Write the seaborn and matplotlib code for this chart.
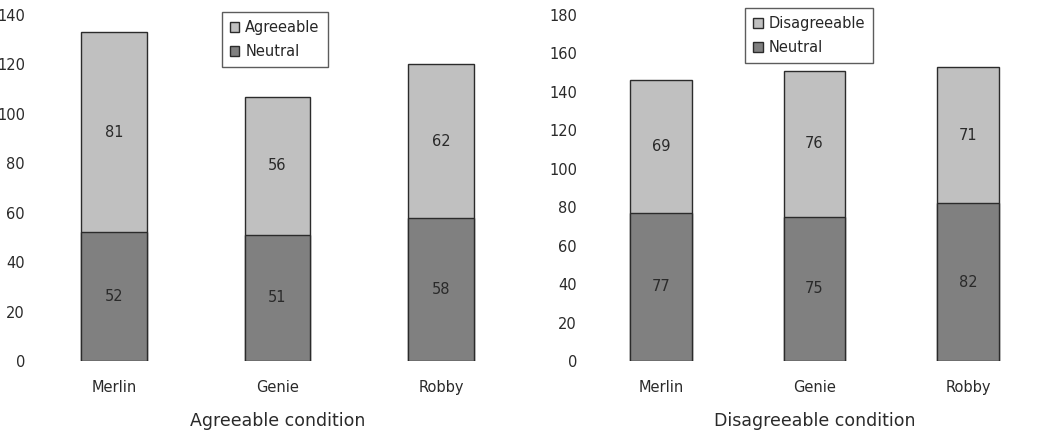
import pandas as pd
import matplotlib.pyplot as plt
import matplotlib.patches as mpatches
import seaborn as sns

robots = ['Merlin', 'Genie', 'Robby']

# Agreeable condition
agree_neutral = [52, 51, 58]
agree_agreeable = [81, 56, 62]

# Disagreeable condition
disagree_neutral = [77, 75, 82]
disagree_disagreeable = [69, 76, 71]

light = '#c0c0c0'
dark = '#808080'
edge = '#2b2b2b'
text_col = '#2a2a2a'

sns.set_style("white")
plt.rcParams['font.family'] = ['DejaVu Sans']

fig = plt.figure(figsize=(10.42, 4.41), dpi=100)
ax1 = fig.add_axes([32 / 1042, 80 / 441, 491 / 1042, 346 / 441])
ax2 = fig.add_axes([584 / 1042, 80 / 441, 461 / 1042, 346 / 441])


def draw_panel(ax, neutral, upper, upper_name, ymax, xlabel, legend_pos):
    df = pd.DataFrame({'robot': robots, 'neutral': neutral, 'upper': upper})
    df['total'] = df['neutral'] + df['upper']

    # Stacked bars: total bar first, neutral drawn on top of it
    sns.barplot(data=df, x='robot', y='total', color=light, width=0.4,
                edgecolor=edge, linewidth=1, saturation=1, ax=ax)
    sns.barplot(data=df, x='robot', y='neutral', color=dark, width=0.4,
                edgecolor=edge, linewidth=1, saturation=1, ax=ax)

    # Segment labels
    for i, row in df.iterrows():
        ax.text(i, row['neutral'] / 2, str(row['neutral']), ha='center', va='center',
                fontsize=10.5, color=text_col)
        ax.text(i, row['neutral'] + row['upper'] / 2, str(row['upper']), ha='center',
                va='center', fontsize=10.5, color=text_col)

    ax.set_xlim(-0.5, 2.5)
    ax.set_ylim(0, ymax)
    ax.set_yticks(range(0, ymax + 1, 20))
    ax.tick_params(axis='both', length=0, labelsize=10.5, colors=text_col)
    ax.tick_params(axis='x', pad=14)
    ax.tick_params(axis='y', pad=5)
    ax.set_ylabel('')
    ax.set_xlabel(xlabel, fontsize=12.5, color=text_col, labelpad=12)
    for s in ax.spines.values():
        s.set_visible(False)

    handles = [mpatches.Patch(facecolor=light, edgecolor=edge, label=upper_name),
               mpatches.Patch(facecolor=dark, edgecolor=edge, label='Neutral')]
    leg = ax.legend(handles=handles, loc='upper left', bbox_to_anchor=legend_pos,
                    frameon=True, fancybox=False, fontsize=10.5, handlelength=0.65,
                    handleheight=0.65, handletextpad=0.4, labelspacing=0.6,
                    borderpad=0.55, borderaxespad=0)
    leg.get_frame().set_edgecolor('#333333')
    leg.get_frame().set_linewidth(1)


draw_panel(ax1, agree_neutral, agree_agreeable, 'Agreeable', 140,
           'Agreeable condition', ((222 - 32) / 491, (361 - 12) / 346))
draw_panel(ax2, disagree_neutral, disagree_disagreeable, 'Disagreeable', 180,
           'Disagreeable condition', ((745 - 584) / 461, (361 - 8) / 346))

plt.savefig('out.png', dpi=100)
